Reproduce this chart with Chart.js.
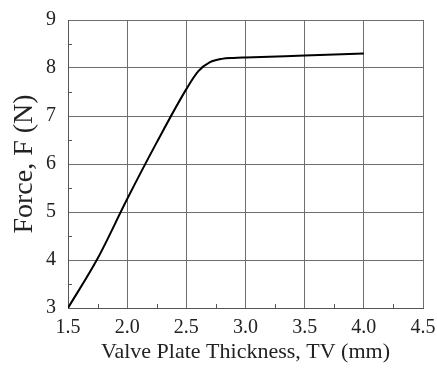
<!DOCTYPE html>
<html><head><meta charset="utf-8">
<script src="https://cdn.jsdelivr.net/npm/chart.js@4"></script>
<style>html,body{margin:0;padding:0;background:#fff}#wrap{width:437px;height:369px}</style>
</head><body><div id="wrap"><canvas id="c" width="437" height="369"></canvas></div>
<script>
const thickness = [1.5, 1.75, 2.0, 2.25, 2.5, 2.6, 2.7, 2.8, 2.9, 3.0, 3.5, 4.0];
const force = [3.0, 4.03, 5.27, 6.45, 7.56, 7.93, 8.12, 8.19, 8.21, 8.22, 8.26, 8.30];
const xTicks = [1.5, 2.0, 2.5, 3.0, 3.5, 4.0, 4.5];
const yTicks = [3, 4, 5, 6, 7, 8, 9];
const xMinor = [1.75, 2.25, 2.75, 3.25, 3.75, 4.25];
const yMinor = [3.5, 4.5, 5.5, 6.5, 7.5, 8.5];

const minorTicks = {
  id: 'minorTicks',
  afterDatasetsDraw(chart) {
    const ctx = chart.ctx, xs = chart.scales.x, ys = chart.scales.y, a = chart.chartArea;
    ctx.save();
    ctx.strokeStyle = '#555';
    ctx.lineWidth = 1;
    ctx.beginPath();
    xMinor.forEach(v => { const p = Math.round(xs.getPixelForValue(v)) + 0.5; ctx.moveTo(p, a.bottom); ctx.lineTo(p, a.bottom - 4); });
    yMinor.forEach(v => { const p = Math.round(ys.getPixelForValue(v)) + 0.5; ctx.moveTo(a.left, p); ctx.lineTo(a.left + 4, p); });
    ctx.stroke();
    ctx.restore();
  }
};

new Chart(document.getElementById('c'), {
  type: 'line',
  data: { datasets: [{ data: thickness.map((x, i) => ({ x, y: force[i] })), borderColor: '#000', borderWidth: 2, pointRadius: 0, cubicInterpolationMode: 'monotone', fill: false }] },
  options: {
    responsive: false, animation: false,
    layout: { padding: { left: 0, top: 20, right: 14, bottom: 0 } },
    plugins: { legend: { display: false }, tooltip: { enabled: false } },
    scales: {
      x: {
        type: 'linear', min: 1.5, max: 4.5,
        afterBuildTicks: s => { s.ticks = xTicks.map(v => ({ value: v })); },
        afterFit: s => { s.height = 61; s.paddingRight = 0; s.paddingLeft = 0; },
        grid: { color: '#6e6e6e', lineWidth: 1, drawTicks: false },
        border: { color: '#555', width: 1 },
        ticks: { color: '#222', padding: 8, maxRotation: 0, font: { family: 'Liberation Serif', size: 20 }, callback: v => v.toFixed(1) },
        title: { display: true, text: 'Valve Plate Thickness, TV (mm)', color: '#222', padding: { top: 8 }, font: { family: 'Liberation Serif', size: 22 } }
      },
      y: {
        type: 'linear', min: 3, max: 9,
        afterBuildTicks: s => { s.ticks = yTicks.map(v => ({ value: v })); },
        afterFit: s => { s.width = 68; s.paddingTop = 0; s.paddingBottom = 0; },
        grid: { color: '#6e6e6e', lineWidth: 1, drawTicks: false },
        border: { color: '#555', width: 1 },
        ticks: { color: '#222', padding: 12, font: { family: 'Liberation Serif', size: 20 } },
        title: { display: true, text: 'Force, F (N)', color: '#222', padding: { top: 8, bottom: 0 }, font: { family: 'Liberation Serif', size: 28 } }
      }
    }
  },
  plugins: [minorTicks]
});
</script></body></html>
